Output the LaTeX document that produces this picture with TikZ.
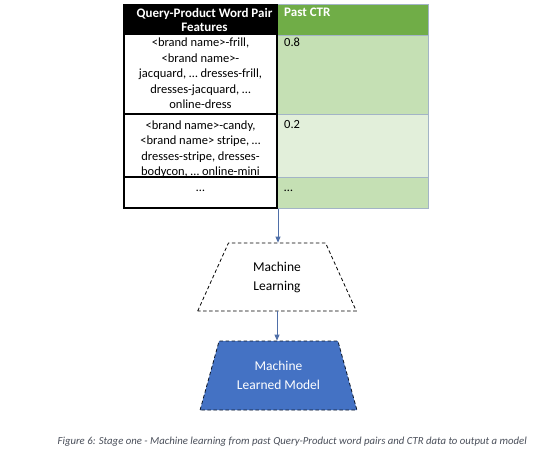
\documentclass[tikz,border=0pt]{standalone}
\usepackage{fontspec}
\setmainfont{Carlito}
\usetikzlibrary{shapes.geometric,arrows.meta}
\definecolor{hdrgreen}{HTML}{70AD47}
\definecolor{rowgreen}{HTML}{C5E0B4}
\definecolor{rowlight}{HTML}{E2EFDA}
\definecolor{gridblue}{HTML}{A3B4C6}
\definecolor{arrowblue}{HTML}{4F6FA8}
\definecolor{modelblue}{HTML}{4472C4}
\definecolor{captiongray}{HTML}{4A4F5A}
\tikzset{
  celltext/.style={anchor=north, align=center, inner sep=0pt, font=\fontsize{12.5}{15.5}\selectfont},
  valtext/.style={anchor=north west, inner sep=0pt, font=\fontsize{12.5}{15.5}\selectfont},
  hdrtext/.style={inner sep=0pt, text=white, font=\bfseries\fontsize{13}{14.5}\selectfont},
  blackline/.style={line width=1.2pt, black},
  lightline/.style={line width=0.8pt, gridblue},
  flow/.style={arrowblue, line width=0.8pt, -{Triangle[length=6pt,width=5pt]}},
  trap/.style={trapezium, trapezium stretches=true, align=center, inner sep=0pt,
    dash pattern=on 3.5pt off 2.5pt, line width=0.8pt, font=\fontsize{13.5}{19}\selectfont}
}
\begin{document}
\begin{tikzpicture}[x=1pt,y=-1pt]
\useasboundingbox[fill=white] (0,0) rectangle (556,455);
% fills
\fill[black] (124,4) rectangle (277,35);
\fill[hdrgreen] (277,4) rectangle (428,35);
\fill[rowgreen] (277,35) rectangle (428,114);
\fill[rowlight] (277,114) rectangle (428,177);
\fill[rowgreen] (277,177) rectangle (428,208);
% right column grid
\draw[lightline] (277,4) -- (428,4) -- (428,208) -- (277,208);
\draw[lightline] (277,35) -- (428,35);
\draw[lightline] (277,114) -- (428,114);
\draw[lightline] (277,177) -- (428,177);
% left column grid
\draw[blackline] (124,4) -- (124,208) -- (277,208) -- (277,4);
\draw[blackline] (124,114) -- (277,114);
\draw[blackline] (124,177) -- (277,177);
% header text
\node[hdrtext, anchor=north, align=center] (h1) at (204.5,8) {Query-Product Word Pair\\Features};
\node[hdrtext, anchor=north west] (h2) at (284,8) {Past CTR};
% rows
\node[celltext] (r1) at (200.5,38) {<brand name>-frill,\\<brand name>-\\jacquard, … dresses-frill,\\dresses-jacquard, …\\online-dress};
\node[valtext] (v1) at (284,38) {0.8};
\node[celltext] (r2) at (200.5,120.5) {<brand name>-candy,\\<brand name> stripe, …\\dresses-stripe, dresses-\\bodycon, … online-mini};
\node[valtext] (v2) at (284,120.5) {0.2};
\node[celltext, anchor=base] (r3) at (200.5,191) {…};
\node[valtext, anchor=base west] (v3) at (284,191) {…};
\coordinate (tbot) at (278,209);
% machine learning
\node[trap, draw=black, trapezium angle=63.8, minimum width=159pt, minimum height=68pt] (ml) at (277,277) {Machine\\Learning};
\node[trap, draw=black!80!modelblue, fill=modelblue, text=white, trapezium angle=65, minimum width=157pt, minimum height=69pt] (model) at (278.5,375.5) {Machine\\Learned Model};
\draw[flow] (tbot) -- (tbot |- ml.top side);
\draw[flow] (ml.bottom side) -- (ml.bottom side |- model.top side);
% caption
\node[inner sep=0pt, anchor=east, text=captiongray, font=\itshape\fontsize{10.75}{12}\selectfont] (cap) at (527,442) {Figure 6: Stage one - Machine learning from past Query-Product word pairs and CTR data to output a model};
\end{tikzpicture}
\end{document}
